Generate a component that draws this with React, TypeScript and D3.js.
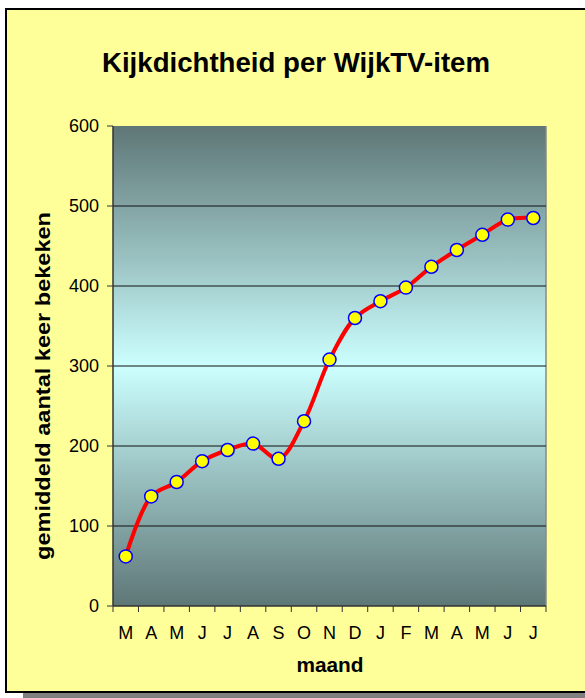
import React from "react";
import * as d3 from "d3";

const months = ["M", "A", "M", "J", "J", "A", "S", "O", "N", "D", "J", "F", "M", "A", "M", "J", "J"];
const views = [62, 137, 155, 181, 195, 203, 184, 231, 308, 360, 381, 398, 424, 445, 464, 483, 485];
const yTicks = [0, 100, 200, 300, 400, 500, 600];

const width = 585;
const height = 698;
const plot = { left: 113, top: 126, right: 546, bottom: 606 };
const font = "Arial, 'Liberation Sans', Helvetica, sans-serif";

const App = () => {
  const idx = months.map((_, i) => i);

  const xScale = d3
    .scaleBand<number>()
    .domain(idx)
    .range([plot.left, plot.right]);

  const yScale = d3
    .scaleLinear()
    .domain([0, 600])
    .range([plot.bottom, plot.top]);

  const cx = (i: number) => (xScale(i) as number) + xScale.bandwidth() / 2;

  const line = d3
    .line<number>()
    .x((d, i) => cx(i))
    .y((d) => yScale(d))
    .curve(d3.curveCatmullRom.alpha(0.5));

  return (
    <svg
      width={width}
      height={height}
      style={{ position: "absolute", left: 0, top: 0 }}
    >
      <defs>
        <linearGradient id="bg" x1="0" y1="0" x2="0" y2="1">
          <stop offset="0" stopColor="#5e7676" />
          <stop offset="0.5" stopColor="#ccffff" />
          <stop offset="1" stopColor="#5e7676" />
        </linearGradient>
      </defs>

      {/* frame with shadow */}
      <rect x={23} y={14} width={600} height={700} fill="#808080" />
      <rect x={6} y={9} width={600} height={683} fill="#ffff99" stroke="#000" strokeWidth={2} />

      <text
        x={296}
        y={72}
        textAnchor="middle"
        fontFamily={font}
        fontWeight="bold"
        fontSize={27}
        textLength={388}
        lengthAdjust="spacingAndGlyphs"
      >
        Kijkdichtheid per WijkTV-item
      </text>

      {/* plot area */}
      <rect
        x={plot.left}
        y={plot.top}
        width={plot.right - plot.left}
        height={plot.bottom - plot.top}
        fill="url(#bg)"
      />
      <line x1={plot.right} x2={plot.right} y1={plot.top} y2={plot.bottom} stroke="#888" strokeWidth={1.5} />

      {yTicks.map((t) => (
        <g key={t}>
          {t > 0 && t < 600 && (
            <line
              x1={plot.left}
              x2={plot.right}
              y1={yScale(t)}
              y2={yScale(t)}
              stroke="#111"
              strokeWidth={1}
            />
          )}
          <line x1={plot.left - 6} x2={plot.left} y1={yScale(t)} y2={yScale(t)} stroke="#333" strokeWidth={1} />
          <text
            x={plot.left - 14}
            y={yScale(t) + 6}
            textAnchor="end"
            fontFamily={font}
            fontSize={18}
          >
            {t}
          </text>
        </g>
      ))}

      {/* axes */}
      <line x1={plot.left} x2={plot.left} y1={plot.top} y2={plot.bottom} stroke="#333" strokeWidth={1.5} />
      <line x1={plot.left} x2={plot.right} y1={plot.bottom} y2={plot.bottom} stroke="#333" strokeWidth={1.5} />

      {idx.concat([months.length]).map((i) => {
        const x = i < months.length ? (xScale(i) as number) : plot.right;
        return (
          <line key={"t" + i} x1={x} x2={x} y1={plot.bottom} y2={plot.bottom + 6} stroke="#333" strokeWidth={1} />
        );
      })}

      {months.map((m, i) => (
        <text
          key={"m" + i}
          x={cx(i)}
          y={639}
          textAnchor="middle"
          fontFamily={font}
          fontSize={18}
        >
          {m}
        </text>
      ))}

      <path d={line(views) || ""} fill="none" stroke="#ff0000" strokeWidth={4} />

      {views.map((v, i) => (
        <circle
          key={"c" + i}
          cx={cx(i)}
          cy={yScale(v)}
          r={6.5}
          fill="#ffff00"
          stroke="#0000ff"
          strokeWidth={1.5}
        />
      ))}

      <text
        x={330}
        y={672}
        textAnchor="middle"
        fontFamily={font}
        fontWeight="bold"
        fontSize={20}
        textLength={67}
        lengthAdjust="spacingAndGlyphs"
      >
        maand
      </text>

      <text
        transform={`translate(50, 386) rotate(-90)`}
        textAnchor="middle"
        fontFamily={font}
        fontWeight="bold"
        fontSize={20}
        textLength={348}
        lengthAdjust="spacingAndGlyphs"
      >
        gemiddeld aantal keer bekeken
      </text>
    </svg>
  );
};

export default App;
